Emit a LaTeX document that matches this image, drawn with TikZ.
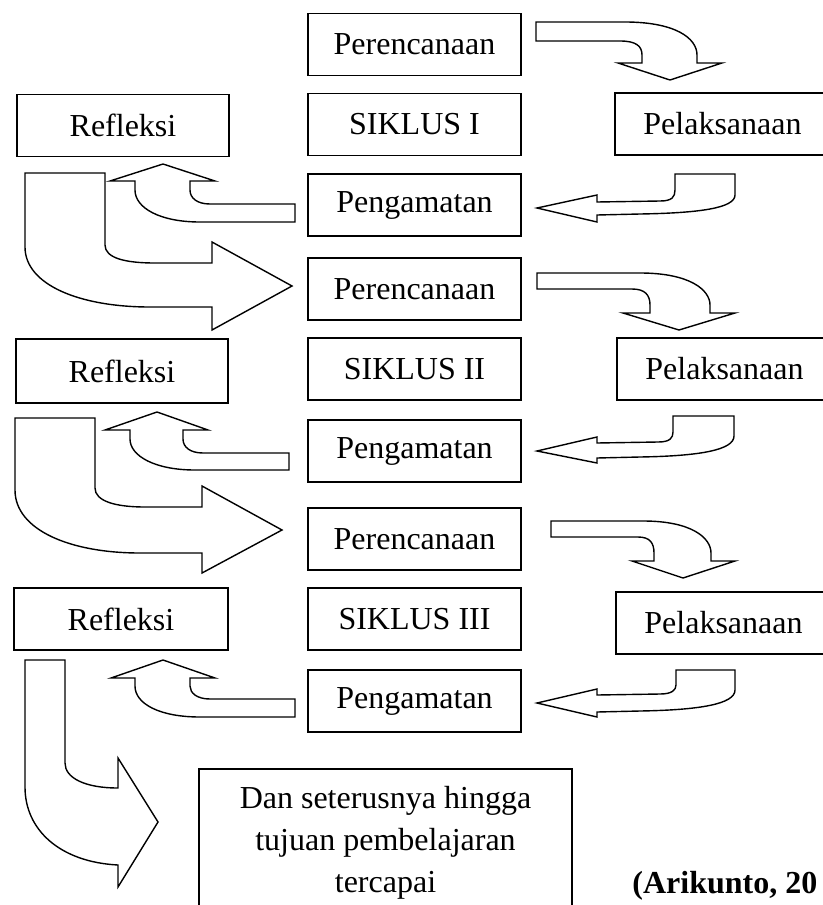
\documentclass[tikz,border=0pt]{standalone}
\usepackage{fontspec}
\setmainfont{Liberation Serif}
\usetikzlibrary{positioning}

\begin{document}
\begin{tikzpicture}[
      x=0.5pt, y=-0.5pt,
      font=\fontsize{16}{21}\selectfont,
      box/.style={rectangle, draw, line width=0.9pt, minimum width=106.5pt,
        minimum height=31pt, inner sep=2pt, align=center},
      sidebox/.style={box, minimum width=106pt},
      rightbox/.style={box, minimum width=107.5pt},
      blockarrow/.style={draw, fill=white, line width=0.7pt, line join=miter},
    ]
    \clip (0,0) rectangle (823,905);

    \node[box] (per1) at (414.5,44.5) {Perencanaan};
    \node[box] (sik1) at (414.5,124.5) {SIKLUS I};
    \node[box] (pga1) at (414.5,205) {Pengamatan};
    \node[sidebox] (ref1) at (123,125.5) {Refleksi};
    \node[rightbox] (pel1) at (722.5,124) {Pelaksanaan};

    \node[box] (per2) at (414.5,289) {Perencanaan};
    \node[box] (sik2) at (414.5,369) {SIKLUS II};
    \node[box] (pga2) at (414.5,451) {Pengamatan};
    \node[sidebox, minimum height=32pt] (ref2) at (122,371) {Refleksi};
    \node[rightbox] (pel2) at (724.5,369) {Pelaksanaan};

    \node[box] (per3) at (414.5,539) {Perencanaan};
    \node[box] (sik3) at (414.5,619) {SIKLUS III};
    \node[box] (pga3) at (414.5,701) {Pengamatan};
    \node[sidebox, minimum width=107pt] (ref3) at (121,619) {Refleksi};
    \node[rightbox] (pel3) at (723.5,623) {Pelaksanaan};

    \node[box, minimum width=186.5pt, minimum height=74pt] (end) at (385.5,843)
      {Dan seterusnya hingga\\tujuan pembelajaran\\tercapai};
    \node[font=\fontsize{16}{21}\selectfont\bfseries, anchor=base west, inner sep=0pt]
      (src) at (632,893) {(Arikunto, 20};

    \draw[blockarrow] (536,22) -- (625,22) .. controls (675,22) and (697,38) .. (697,55)
      -- (697,63) -- (722,63) -- (670,80) -- (618,63) -- (642,63) -- (642,55)
      .. controls (642,46) and (636,41) .. (620,41) -- (536,41) -- cycle;
    \draw[blockarrow] (735,174) -- (735,195) .. controls (735,208) and (700,213) .. (640,214)
      -- (597,215) -- (597,222) -- (537,208) -- (597,195) -- (597,202) -- (660,201)
      .. controls (672,201) and (675,197) .. (675,190) -- (675,174) -- cycle;
    \draw[blockarrow] (295,204) -- (210,204) .. controls (197,204) and (190,198) .. (190,190)
      -- (190,181) -- (215,181) -- (163,164) -- (110,181) -- (135,181) -- (135,190)
      .. controls (135,208) and (160,222) .. (200,222) -- (295,222) -- cycle;
    \draw[blockarrow] (25,173) -- (105,173) -- (105,245) .. controls (105,258) and (125,263) .. (155,263)
      -- (212,263) -- (212,242) -- (292,286) -- (212,330) -- (212,307) -- (150,307)
      .. controls (80,307) and (25,285) .. (25,247) -- cycle;

    \draw[blockarrow] (537,273) -- (640,273) .. controls (690,273) and (710,290) .. (710,305)
      -- (710,313) -- (735,313) -- (679,330) -- (623,313) -- (650,313) -- (650,305)
      .. controls (650,295) and (645,289) .. (632,289) -- (537,289) -- cycle;
    \draw[blockarrow] (734,416) -- (734,436) .. controls (734,450) and (700,456) .. (640,457)
      -- (597,458) -- (597,463) -- (537,451) -- (597,437) -- (597,443) -- (658,442)
      .. controls (670,442) and (673,438) .. (673,432) -- (673,416) -- cycle;
    \draw[blockarrow] (289,453) -- (203,453) .. controls (190,453) and (183,447) .. (183,439)
      -- (183,430) -- (208,430) -- (157,412) -- (105,430) -- (130,430) -- (130,439)
      .. controls (130,456) and (155,470) .. (195,470) -- (289,470) -- cycle;
    \draw[blockarrow] (15,418) -- (95,418) -- (95,488) .. controls (95,501) and (115,507) .. (145,507)
      -- (202,507) -- (202,486) -- (282,530) -- (202,573) -- (202,553) -- (140,553)
      .. controls (70,553) and (15,530) .. (15,490) -- cycle;

    \draw[blockarrow] (551,521) -- (643,521) .. controls (692,521) and (711,538) .. (711,553)
      -- (711,561) -- (735,561) -- (683,578) -- (632,561) -- (654,561) -- (654,553)
      .. controls (654,543) and (650,537) .. (638,537) -- (551,537) -- cycle;
    \draw[blockarrow] (735,670) -- (735,690) .. controls (735,704) and (700,710) .. (640,711)
      -- (597,712) -- (597,717) -- (537,703) -- (597,689) -- (597,695) -- (660,694)
      .. controls (672,694) and (676,690) .. (676,685) -- (676,670) -- cycle;
    \draw[blockarrow] (295,699) -- (210,699) .. controls (197,699) and (190,693) .. (190,686)
      -- (190,678) -- (215,678) -- (163,660) -- (111,678) -- (135,678) -- (135,686)
      .. controls (135,704) and (160,717) .. (200,717) -- (295,717) -- cycle;
    \draw[blockarrow] (25,660) -- (65,660) -- (65,763) .. controls (65,778) and (85,788) .. (118,788)
      -- (118,758) -- (158,822) -- (118,887) -- (118,865)
      .. controls (60,862) and (25,830) .. (25,787) -- cycle;
  \end{tikzpicture}
\end{document}
